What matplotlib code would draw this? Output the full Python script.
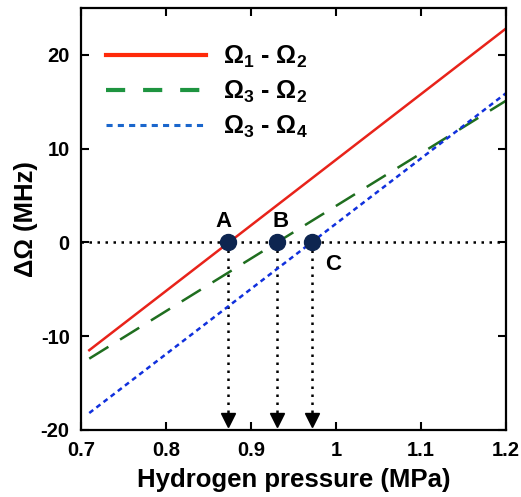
import matplotlib
matplotlib.use("Agg")
import matplotlib.pyplot as plt
from matplotlib.lines import Line2D

plt.rcParams['font.family'] = ['Liberation Sans', 'DejaVu Sans']
plt.rcParams['font.weight'] = 'bold'
plt.rcParams['axes.unicode_minus'] = False
plt.rcParams['mathtext.fontset'] = 'custom'
plt.rcParams['mathtext.rm'] = 'Liberation Sans:bold'
plt.rcParams['mathtext.it'] = 'Liberation Sans:bold'
plt.rcParams['mathtext.bf'] = 'Liberation Sans:bold'

# data
pressure = [0.71, 1.2]
d_12 = [-11.5, 22.8]
d_32 = [-12.4, 15.1]
d_34 = [-18.2, 15.9]
series_labels = [r'$\Omega_1$ - $\Omega_2$', r'$\Omega_3$ - $\Omega_2$', r'$\Omega_3$ - $\Omega_4$']
cross_x = [0.873, 0.931, 0.972]
cross_labels = ['A', 'B', 'C']
xticks = [0.7, 0.8, 0.9, 1.0, 1.1, 1.2]
xticklabels = ['0.7', '0.8', '0.9', '1', '1.1', '1.2']
yticks = [-20, -10, 0, 10, 20]

red = '#e8231a'
green = '#1f6e1f'
blue = '#1030dd'

fig = plt.figure(figsize=(5.21, 4.97), dpi=100)
ax = fig.add_axes([0.155, 0.135, 0.816, 0.849])

ax.plot([0.7, 1.2], [0, 0], color='black', lw=1.8, linestyle=(0, (1, 2.2)), zorder=1)
ax.plot(pressure, d_12, color=red, lw=1.8, zorder=2)
ax.plot(pressure, d_32, color=green, lw=1.8, dashes=(9, 5.5), zorder=2)
ax.plot(pressure, d_34, color=blue, lw=1.8, dashes=(2, 1.6), zorder=2)

for x in cross_x:
    ax.plot([x, x], [0, -18.5], color='black', lw=1.8, linestyle=(0, (1, 2.2)), zorder=1)
    ax.plot([x], [-18.9], marker='v', color='black', markersize=10, zorder=3, clip_on=False)
    ax.plot([x], [0], marker='o', color='#0d2550', markersize=11.5, zorder=4)

ax.text(cross_x[0] - 0.005, 1.1, cross_labels[0], fontsize=16, fontweight='bold', ha='center', va='bottom')
ax.text(cross_x[1] + 0.004, 1.1, cross_labels[1], fontsize=16, fontweight='bold', ha='center', va='bottom')
ax.text(cross_x[2] + 0.025, -1.2, cross_labels[2], fontsize=16, fontweight='bold', ha='center', va='top')

ax.set_xlim(0.7, 1.2)
ax.set_ylim(-20, 25)
ax.set_xticks(xticks)
ax.set_xticklabels(xticklabels)
ax.set_yticks(yticks)
ax.tick_params(direction='in', length=6, width=1.5, top=True, right=True, labelsize=14.5, pad=8)
for lab in ax.get_xticklabels() + ax.get_yticklabels():
    lab.set_fontweight('bold')
for s in ax.spines.values():
    s.set_linewidth(1.6)

ax.set_xlabel('Hydrogen pressure (MPa)', fontsize=18.5, fontweight='bold', labelpad=6)
ax.set_ylabel('ΔΩ (MHz)', fontsize=18.5, fontweight='bold', labelpad=2)

handles = [
    Line2D([], [], color='#ff2a0a', lw=3),
    Line2D([], [], color='#1e9440', lw=3, dashes=(4.6, 4.3)),
    Line2D([], [], color='#1a66cc', lw=2.2, dashes=(2, 1.7)),
]
leg = ax.legend(handles, series_labels, loc='upper left', frameon=False, fontsize=18,
                handlelength=4.0, handletextpad=0.7, labelspacing=0.35,
                bbox_to_anchor=(0.0, 0.975), borderaxespad=0.6)

fig.savefig('out.png', dpi=100)
